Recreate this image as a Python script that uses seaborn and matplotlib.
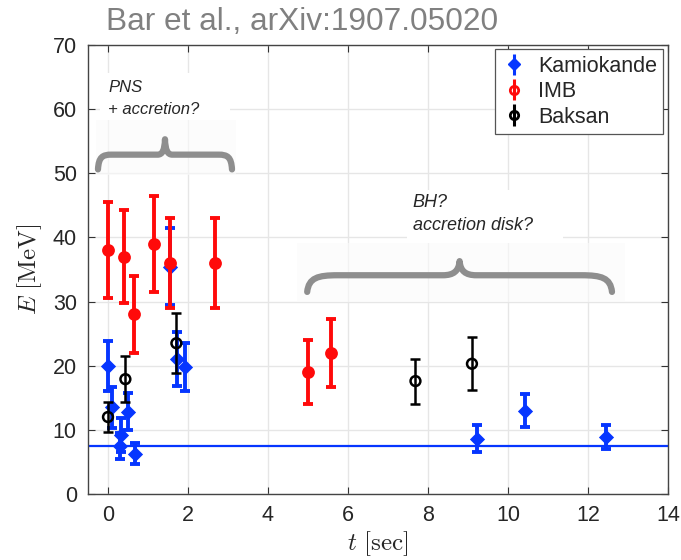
import numpy as np
import pandas as pd
import matplotlib
matplotlib.use("Agg")
import matplotlib.pyplot as plt
from matplotlib.path import Path
from matplotlib.patches import PathPatch, Rectangle
import seaborn as sns

# ---------------- data ----------------
kam_t = [0.0, 0.107, 0.303, 0.324, 0.507, 0.686, 1.541, 1.728, 1.915, 9.219, 10.433, 12.439]
kam_E = [20.0, 13.5, 7.5, 9.2, 12.8, 6.3, 35.4, 21.0, 19.8, 8.6, 13.0, 8.9]
kam_err = [3.9, 3.2, 2.0, 2.7, 2.9, 1.7, 6.0, 4.2, 3.7, 2.1, 2.6, 1.9]

imb_t = [0.0, 0.412, 0.650, 1.141, 1.562, 2.684, 5.010, 5.582]
imb_E = [38.0, 37.0, 28.0, 39.0, 36.0, 36.0, 19.0, 22.0]
imb_err = [7.5, 7.2, 6.0, 7.5, 7.0, 7.0, 5.0, 5.3]

bak_t = [0.0, 0.435, 1.710, 7.687, 9.099]
bak_E = [12.0, 17.9, 23.5, 17.6, 20.3]
bak_err = [2.4, 3.6, 4.7, 3.5, 4.1]

series_names = ["Kamiokande", "IMB", "Baksan"]
threshold_E = 7.5

title_text = "Bar et al., arXiv:1907.05020"
x_ticks = [0, 2, 4, 6, 8, 10, 12, 14]
y_ticks = [0, 10, 20, 30, 40, 50, 60, 70]

# ---------------- style ----------------
sns.set_style("whitegrid")
plt.rcParams["font.family"] = ["Liberation Sans", "DejaVu Sans"]
plt.rcParams["mathtext.fontset"] = "cm"

BLUE = "#0636ff"
RED = "#ff0a0a"
BLACK = "#000000"

fig = plt.figure(figsize=(6.81, 5.6), dpi=100)
ax = fig.add_axes([0.1292, 0.1179, 0.8517, 0.8018])

df = pd.concat([
    pd.DataFrame({"t": kam_t, "E": kam_E, "det": series_names[0]}),
    pd.DataFrame({"t": imb_t, "E": imb_E, "det": series_names[1]}),
    pd.DataFrame({"t": bak_t, "E": bak_E, "det": series_names[2]}),
], ignore_index=True)

# threshold line
ax.axhline(threshold_E, color=BLUE, lw=1.6, zorder=2)

# Kamiokande
ax.errorbar(kam_t, kam_E, yerr=kam_err, fmt="none", ecolor=BLUE, elinewidth=2.8,
            capsize=3.5, capthick=2.8, zorder=3)
sns.scatterplot(data=df[df.det == "Kamiokande"], x="t", y="E", marker="D", s=60,
                color=BLUE, edgecolor=BLUE, linewidth=0, ax=ax, zorder=4, legend=False)
# IMB
ax.errorbar(imb_t, imb_E, yerr=imb_err, fmt="none", ecolor=RED, elinewidth=2.8,
            capsize=3.5, capthick=2.8, zorder=5)
sns.scatterplot(data=df[df.det == "IMB"], x="t", y="E", marker="o", s=85,
                color=RED, edgecolor=RED, linewidth=0, ax=ax, zorder=6, legend=False)
# Baksan
ax.errorbar(bak_t, bak_E, yerr=bak_err, fmt="none", ecolor=BLACK, elinewidth=1.8,
            capsize=3.5, capthick=1.8, zorder=7)
sns.scatterplot(data=df[df.det == "Baksan"], x="t", y="E", marker="o", s=50,
                facecolor="none", edgecolor=BLACK, linewidth=1.8, ax=ax, zorder=8, legend=False)

# legend proxies
h1 = ax.errorbar([], [], yerr=[], fmt="D", color=BLUE, ms=6, elinewidth=2.2, capsize=3, capthick=2.2)
h2 = ax.errorbar([], [], yerr=[], fmt="o", color=RED, mfc="none", mew=2, ms=6, elinewidth=2.2, capsize=3, capthick=2.2)
h3 = ax.errorbar([], [], yerr=[], fmt="o", color=BLACK, mfc="none", mew=2, ms=6, elinewidth=2.2, capsize=3, capthick=2.2)
leg = ax.legend([h1, h2, h3], series_names, loc="upper right", fontsize=15.5,
                handlelength=1.2, handletextpad=0.5, borderpad=0.3, labelspacing=0.2,
                fancybox=False, framealpha=1, edgecolor="#555555",
                bbox_to_anchor=(0.992, 0.99), borderaxespad=0.0)
leg.get_frame().set_linewidth(0.9)
leg.set_zorder(20)


# ---------------- braces & annotations ----------------
def brace(ax, x0, x1, ye, yf, yt, color="#8e8e8e", lw=4.5):
    w = x1 - x0
    xm = 0.5 * (x0 + x1)
    qe = 0.1 * w
    qt = 0.055 * w
    verts = [
        (x0, ye),
        (x0 + 0.05 * qe, ye + 0.85 * (yf - ye)), (x0 + 0.35 * qe, yf), (x0 + qe, yf),
        (xm - qt, yf),
        (xm - 0.35 * qt, yf), (xm - 0.05 * qt, yf + 0.3 * (yt - yf)), (xm, yt),
        (xm + 0.05 * qt, yf + 0.3 * (yt - yf)), (xm + 0.35 * qt, yf), (xm + qt, yf),
        (x1 - qe, yf),
        (x1 - 0.35 * qe, yf), (x1 - 0.05 * qe, ye + 0.85 * (yf - ye)), (x1, ye),
    ]
    codes = [Path.MOVETO,
             Path.CURVE4, Path.CURVE4, Path.CURVE4,
             Path.LINETO,
             Path.CURVE4, Path.CURVE4, Path.CURVE4,
             Path.CURVE4, Path.CURVE4, Path.CURVE4,
             Path.LINETO,
             Path.CURVE4, Path.CURVE4, Path.CURVE4]
    ax.add_patch(PathPatch(Path(verts, codes), facecolor="none", edgecolor=color,
                           lw=lw, capstyle="round", joinstyle="round", zorder=2.5))

# faint image-like backgrounds behind annotations
ax.add_patch(Rectangle((-0.2, 58.3), 3.25, 7.3, facecolor="white", edgecolor="none", zorder=1))
ax.add_patch(Rectangle((-0.3, 49.7), 3.5, 8.6, facecolor="#fbfbfb", edgecolor="none", alpha=0.6, zorder=1))
ax.add_patch(Rectangle((7.48, 39.1), 3.9, 8.3, facecolor="white", edgecolor="none", zorder=1))
ax.add_patch(Rectangle((4.73, 29.9), 8.2, 9.2, facecolor="#fbfbfb", edgecolor="none", alpha=0.6, zorder=1))

brace(ax, -0.25, 3.1, 50.6, 52.9, 55.3)
brace(ax, 4.98, 12.6, 31.5, 34.1, 36.3)

ax.text(0.0, 63.3, "PNS", fontsize=12, style="italic", ha="left", va="center", zorder=3)
ax.text(0.0, 59.9, "+ accretion?", fontsize=12, style="italic", ha="left", va="center", zorder=3)
ax.text(7.62, 45.4, "BH?", fontsize=13, style="italic", ha="left", va="center", zorder=3)
ax.text(7.62, 41.8, "accretion disk?", fontsize=13, style="italic", ha="left", va="center", zorder=3)

# ---------------- axes ----------------
ax.set_xlim(-0.5, 14)
ax.set_ylim(0, 70)
ax.set_xticks(x_ticks)
ax.set_yticks(y_ticks)
ax.set_xticklabels([str(v) for v in x_ticks])
ax.set_yticklabels([str(v) for v in y_ticks])
ax.tick_params(axis="both", labelsize=15.5, direction="in", length=5, width=0.8,
               color="#333333", top=True, right=True, bottom=True, left=True, pad=8)
ax.grid(True, color="#e6e6e6", lw=1.0)
ax.set_axisbelow(True)
for sp in ax.spines.values():
    sp.set_color("#444444")
    sp.set_linewidth(1.0)

ax.set_xlabel(r"$t\ [\mathrm{sec}]$", fontsize=18, labelpad=2)
ax.set_ylabel(r"$E\ [\mathrm{MeV}]$", fontsize=18, labelpad=6)

fig.text(106 / 681, 1 - 22 / 560, title_text, fontsize=22.8, color="#808080",
         ha="left", va="center")

fig.savefig("out.png", dpi=100)
